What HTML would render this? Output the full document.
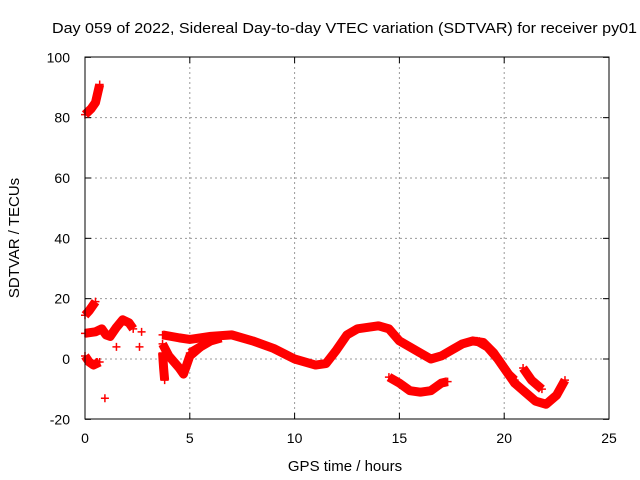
<!DOCTYPE html>
<html><head><meta charset="utf-8"><style>
body{margin:0;background:#fff}
svg{display:block;font-family:"Liberation Sans",sans-serif;font-size:14px}
</style></head><body>
<svg id="chart" width="640" height="480">
<text x="52" y="33" textLength="585" lengthAdjust="spacingAndGlyphs" font-size="15">Day 059 of 2022, Sidereal Day-to-day VTEC variation (SDTVAR) for receiver py01</text>
<text x="345" y="471" text-anchor="middle" font-size="15">GPS time / hours</text>
<text transform="translate(19,238) rotate(-90)" text-anchor="middle" font-size="15">SDTVAR / TECUs</text>
<g id="grid"></g><g id="marks"></g>
<rect x="85" y="57" width="524" height="362" fill="none" stroke="#000" stroke-width="1"/>
</svg>
<script>
const xTicks=[0,5,10,15,20,25];
const yTicks=[-20,0,20,40,60,80,100];
const traceMain=[[3.7,8],[4.5,7],[5,6.5],[6,7.5],[7,8],[8,6],[9,3.5],[10,0],[11,-2],[11.5,-1.5],[12,3],[12.5,8],[13,10],[14,11],[14.5,10],[15,6],[16,2],[16.5,0],[17,1],[17.5,3],[18,5],[18.5,6],[19,5.5],[19.5,2],[20,-3],[20.5,-8],[21,-11],[21.5,-14],[22,-15],[22.5,-12],[22.9,-7]];
const traceEarly=[[0,8.5],[0.5,9],[0.8,10],[1.0,8],[1.2,7.5],[1.5,10.5],[1.8,13],[2.1,12],[2.3,10]];
const traceHigh=[[0,81],[0.3,83],[0.5,85],[0.6,88],[0.7,91]];
const traceMid=[[0,14.5],[0.2,16],[0.4,18],[0.5,19]];
const traceLow=[[0,1],[0.2,-1],[0.4,-2],[0.7,-1]];
const traceDip=[[3.7,5],[4,1],[4.5,-3],[4.7,-5],[5,1],[5.5,4]];
const traceDrop=[[3.7,2],[3.75,-3],[3.8,-7]];
const traceBranch5=[[5,2],[5.5,4],[6,6],[6.5,7]];
const traceBranch19=[[18.7,6],[19.2,4],[19.7,0],[20.2,-5],[20.5,-7]];
const traceBranch21=[[20.9,-3],[21.3,-7],[21.8,-10]];
const traceBottom=[[14.5,-6],[15,-8],[15.5,-10.5],[16,-11],[16.5,-10.5],[17,-8],[17.3,-7.5]];
const isolated=[[0.95,-13],[1.5,4],[2.6,4],[2.7,9],[0.55,-1]];
const traces=[traceMain,traceEarly,traceHigh,traceMid,traceLow,traceDip,traceDrop,traceBranch5,traceBranch19,traceBranch21,traceBottom];
const X=t=>85+t*524/25, Y=v=>359-v*362/120;
const NS='http://www.w3.org/2000/svg';
const grid=document.getElementById('grid'), marks=document.getElementById('marks');
function mk(tag,attrs,parent){const e=document.createElementNS(NS,tag);for(const k in attrs)e.setAttribute(k,attrs[k]);parent.appendChild(e);return e;}
xTicks.forEach(t=>{
 if(t>0&&t<25){const g=mk('line',{x1:X(t),x2:X(t),y1:57,y2:419,stroke:'#999','stroke-dasharray':'2,3'},grid);
 
 }
 mk('line',{x1:X(t),x2:X(t),y1:419,y2:413,stroke:'#000'},grid);
 mk('line',{x1:X(t),x2:X(t),y1:57,y2:63,stroke:'#000'},grid);
 const l=mk('text',{x:X(t),y:443,'text-anchor':'middle'},grid);l.textContent=t;
 
 
});
yTicks.forEach(v=>{
 if(v>-20&&v<100){const g=mk('line',{x1:85,x2:609,y1:Y(v),y2:Y(v),stroke:'#999','stroke-dasharray':'2,3'},grid);
 
 }
 mk('line',{x1:85,x2:91,y1:Y(v),y2:Y(v),stroke:'#000'},grid);
 mk('line',{x1:609,x2:603,y1:Y(v),y2:Y(v),stroke:'#000'},grid);
 const l=mk('text',{x:70,y:Y(v)+5,'text-anchor':'end'},grid);l.textContent=v;
 
 
});
function plus(t,v){const x=X(t),y=Y(v);
 const p=mk('path',{d:`M${x-4},${y}h8M${x},${y-4}v8`,stroke:'#f00','stroke-width':1.5},marks);
 
 }
traces.forEach(tr=>{
 const pl=mk('polyline',{points:tr.map(p=>X(p[0])+','+Y(p[1])).join(' '),fill:'none',stroke:'#f00','stroke-width':9,'stroke-linejoin':'round'},marks);
 
 
 tr.forEach(p=>plus(p[0],p[1]));
});
isolated.forEach(p=>plus(p[0],p[1]));
</script>
</body></html>
